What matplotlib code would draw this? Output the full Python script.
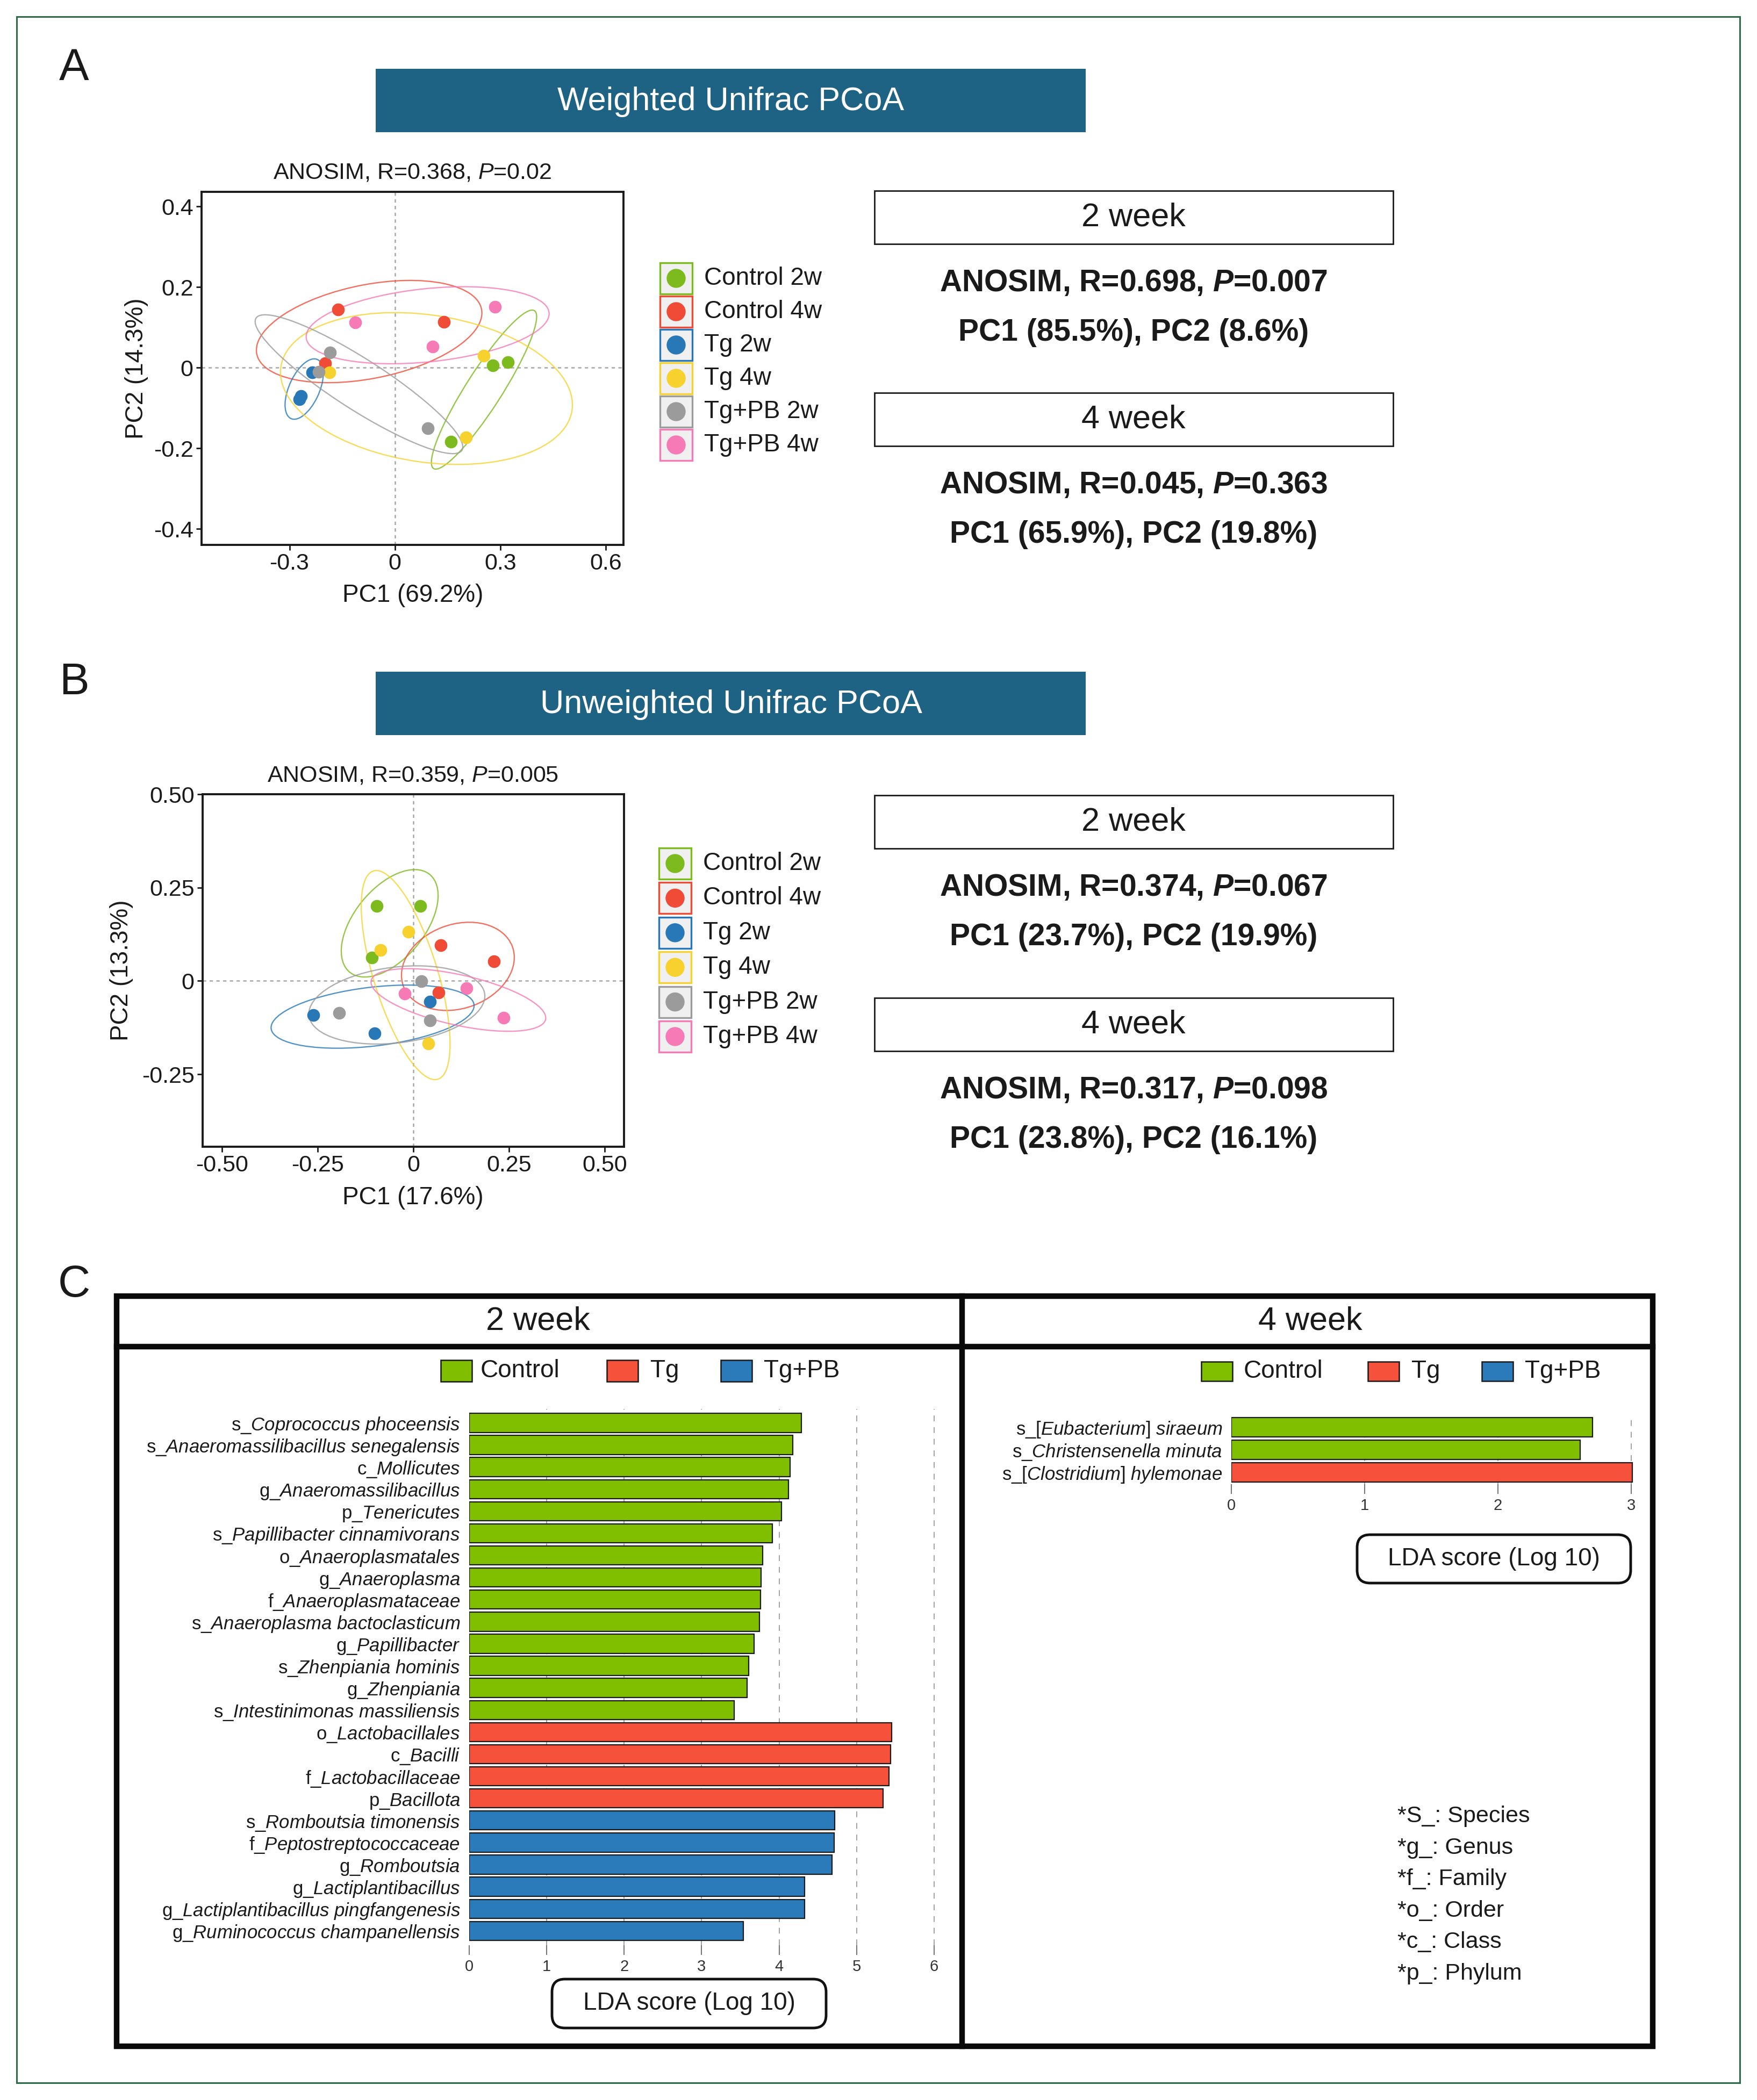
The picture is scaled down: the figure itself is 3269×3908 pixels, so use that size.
import numpy as np
import matplotlib
matplotlib.use('Agg')
import matplotlib.pyplot as plt
from matplotlib.patches import Rectangle, Ellipse, FancyBboxPatch, Circle

plt.rcParams['font.family'] = ['Liberation Sans', 'DejaVu Sans']
plt.rcParams['mathtext.fontset'] = 'custom'
plt.rcParams['mathtext.rm'] = 'Liberation Sans'
plt.rcParams['mathtext.it'] = 'Liberation Sans:italic'
plt.rcParams['mathtext.bf'] = 'Liberation Sans:bold'
plt.rcParams['mathtext.bfit'] = 'Liberation Sans:italic:bold'

# ---------------- data ----------------
groups = ['Control 2w', 'Control 4w', 'Tg 2w', 'Tg 4w', 'Tg+PB 2w', 'Tg+PB 4w']
group_colors = ['#7cba1e', '#f04b37', '#2878b8', '#f7d22f', '#9b9b9b', '#f57ab5']

# weighted unifrac PCoA (one list per group)
wu_pc1 = [
    [0.279, 0.321, 0.160],
    [-0.161, 0.139, -0.198],
    [-0.235, -0.267, -0.272],
    [-0.186, 0.253, 0.202],
    [-0.184, -0.216, 0.093],
    [-0.113, 0.285, 0.107],
]
wu_pc2 = [
    [0.006, 0.014, -0.184],
    [0.144, 0.113, 0.011],
    [-0.012, -0.070, -0.078],
    [-0.012, 0.029, -0.173],
    [0.037, -0.011, -0.150],
    [0.112, 0.151, 0.052],
]
# unweighted unifrac PCoA
uu_pc1 = [
    [-0.095, 0.018, -0.108],
    [0.072, 0.211, 0.066],
    [-0.261, 0.043, -0.101],
    [-0.013, -0.086, 0.039],
    [0.021, -0.194, 0.044],
    [-0.022, 0.139, 0.236],
]
uu_pc2 = [
    [0.201, 0.200, 0.062],
    [0.095, 0.053, -0.031],
    [-0.092, -0.055, -0.140],
    [0.132, 0.083, -0.168],
    [-0.001, -0.086, -0.106],
    [-0.034, -0.020, -0.099],
]

wu_title = 'ANOSIM, R=0.368, $\\mathit{P}$=0.02'
uu_title = 'ANOSIM, R=0.359, $\\mathit{P}$=0.005'
wu_axis = ['PC1 (69.2%)', 'PC2 (14.3%)']
uu_axis = ['PC1 (17.6%)', 'PC2 (13.3%)']

wu_stats = [('2 week', 'ANOSIM, R=0.698, $\\mathbfit{P}$=0.007', 'PC1 (85.5%), PC2 (8.6%)'),
            ('4 week', 'ANOSIM, R=0.045, $\\mathbfit{P}$=0.363', 'PC1 (65.9%), PC2 (19.8%)')]
uu_stats = [('2 week', 'ANOSIM, R=0.374, $\\mathbfit{P}$=0.067', 'PC1 (23.7%), PC2 (19.9%)'),
            ('4 week', 'ANOSIM, R=0.317, $\\mathbfit{P}$=0.098', 'PC1 (23.8%), PC2 (16.1%)')]

# LEfSe, 2 week
w2_taxa = ['s_Coprococcus phoceensis', 's_Anaeromassilibacillus senegalensis', 'c_Mollicutes',
           'g_Anaeromassilibacillus', 'p_Tenericutes', 's_Papillibacter cinnamivorans',
           'o_Anaeroplasmatales', 'g_Anaeroplasma', 'f_Anaeroplasmataceae',
           's_Anaeroplasma bactoclasticum', 'g_Papillibacter', 's_Zhenpiania hominis',
           'g_Zhenpiania', 's_Intestinimonas massiliensis', 'o_Lactobacillales', 'c_Bacilli',
           'f_Lactobacillaceae', 'p_Bacillota', 's_Romboutsia timonensis',
           'f_Peptostreptococcaceae', 'g_Romboutsia', 'g_Lactiplantibacillus',
           'g_Lactiplantibacillus pingfangenesis', 'g_Ruminococcus champanellensis']
w2_lda = [4.29, 4.18, 4.14, 4.12, 4.03, 3.91, 3.79, 3.77, 3.76, 3.75, 3.68, 3.61, 3.59, 3.42,
          5.45, 5.44, 5.42, 5.34, 4.72, 4.71, 4.68, 4.33, 4.33, 3.54]
w2_group = ['Control'] * 14 + ['Tg'] * 4 + ['Tg+PB'] * 6

# LEfSe, 4 week
w4_taxa = ['s_[Eubacterium] siraeum', 's_Christensenella minuta', 's_[Clostridium] hylemonae']
w4_lda = [2.71, 2.62, 3.01]
w4_group = ['Control', 'Control', 'Tg']

lefse_classes = ['Control', 'Tg', 'Tg+PB']
lefse_colors = {'Control': '#80bf00', 'Tg': '#f5513b', 'Tg+PB': '#2b7bba'}

rank_notes = ['*S_: Species', '*g_: Genus', '*f_: Family', '*o_: Order', '*c_: Class', '*p_: Phylum']

# ---------------- layout helpers ----------------
W, H = 3269, 3908
fig = plt.figure(figsize=(W / 100, H / 100), dpi=100)
canvas = fig.add_axes([0, 0, 1, 1])
canvas.set_xlim(0, W)
canvas.set_ylim(H, 0)
canvas.axis('off')


def box(x0, y0, x1, y1):
    return [x0 / W, 1 - y1 / H, (x1 - x0) / W, (y1 - y0) / H]


def ellipse(ax, x, y, color, scale=1.72, reg=0.0006):
    x = np.asarray(x)
    y = np.asarray(y)
    cov = np.cov(x, y) + reg * np.eye(2)
    vals, vecs = np.linalg.eigh(cov)
    ang = np.degrees(np.arctan2(vecs[1, 1], vecs[0, 1]))
    e = Ellipse((x.mean(), y.mean()), 2 * scale * np.sqrt(vals[1]), 2 * scale * np.sqrt(vals[0]),
                angle=ang, fill=False, ec=color, lw=1.7, alpha=0.8, zorder=2)
    ax.add_patch(e)


def pcoa(rect, xs, ys, xlim, ylim, xticks, xtl, yticks, ytl):
    ax = fig.add_axes(rect)
    ax.axhline(0, color='#a8a8a8', ls=(0, (2.5, 2.5)), lw=1.8, zorder=1)
    ax.axvline(0, color='#a8a8a8', ls=(0, (2.5, 2.5)), lw=1.8, zorder=1)
    for x, y, c in zip(xs, ys, group_colors):
        ellipse(ax, x, y, c)
        ax.scatter(x, y, s=290, color=c, lw=0, zorder=3)
    ax.set_xlim(*xlim)
    ax.set_ylim(*ylim)
    ax.set_xticks(xticks)
    ax.set_xticklabels(xtl)
    ax.set_yticks(yticks)
    ax.set_yticklabels(ytl)
    for s in ax.spines.values():
        s.set_linewidth(2.8)
        s.set_color('#1a1a1a')
    ax.tick_params(length=7, width=2, labelsize=31, pad=4, colors='#1a1a1a')
    return ax


def pcoa_legend(x_box, y_first, step):
    for i, (g, c) in enumerate(zip(groups, group_colors)):
        yc = y_first + i * step
        canvas.add_patch(Rectangle((x_box, yc - 29), 60, 58, fc='#f0f0f0', ec=c, lw=2.4))
        canvas.add_patch(Circle((x_box + 30, yc), 17, color=c))
        canvas.text(x_box + 82, yc, g, fontsize=33, va='center', ha='left', color='#1a1a1a')


def stats_block(y_boxes, stats):
    for yb, (wk, l1, l2) in zip(y_boxes, stats):
        canvas.add_patch(Rectangle((1627, yb), 965, 99, fill=False, ec='#1a1a1a', lw=2))
        canvas.text(2109, yb + 50, wk, fontsize=44, ha='center', va='center', color='#1a1a1a')
        canvas.text(2109, yb + 172, l1, fontsize=41, fontweight='bold', ha='center', va='center',
                    color='#1a1a1a')
        canvas.text(2109, yb + 264, l2, fontsize=41, fontweight='bold', ha='center', va='center',
                    color='#1a1a1a')


def taxon_label(t):
    prefix, name = t.split('_', 1)
    return prefix + '_$\\mathit{' + name.replace(' ', '\\ ') + '}$'


def lefse(rect, taxa, lda, grp, xmax, ylim_pad, ticks):
    ax = fig.add_axes(rect)
    ypos = np.arange(len(taxa))
    for v in ticks[1:]:
        ax.axvline(v, color='#9a9a9a', ls=(0, (6, 6)), lw=1.3, zorder=0)
    ax.barh(ypos, lda, height=0.86, color=[lefse_colors[g] for g in grp],
            edgecolor='#1a1a1a', lw=1.6, zorder=2)
    ax.set_xlim(0, xmax)
    ax.set_ylim(len(taxa) - 1 + ylim_pad[1], -ylim_pad[0])
    ax.set_yticks(ypos)
    ax.set_yticklabels([taxon_label(t) for t in taxa], fontsize=25, color='#1a1a1a')
    ax.set_xticks(ticks)
    ax.set_xticklabels([str(t) for t in ticks])
    ax.tick_params(axis='y', length=0, pad=12)
    ax.tick_params(axis='x', length=13, width=1.5, color='#777777', labelsize=21, pad=6,
                   labelcolor='#333333')
    for s in ax.spines.values():
        s.set_visible(False)
    return ax


def lefse_legend(xs_box, xs_text, yc, h):
    for cls, xb, xt in zip(lefse_classes, xs_box, xs_text):
        canvas.add_patch(Rectangle((xb, yc - h / 2), 58, h, fc=lefse_colors[cls], ec='#1a1a1a', lw=1.8))
        canvas.text(xt, yc, cls, fontsize=33, va='center', ha='left', color='#1a1a1a')


def lda_box(x0, y0, x1, y1):
    canvas.add_patch(FancyBboxPatch((x0, y0), x1 - x0, y1 - y0,
                                    boxstyle='round,pad=0,rounding_size=24',
                                    fc='white', ec='#111111', lw=3.5))
    canvas.text((x0 + x1) / 2, (y0 + y1) / 2, 'LDA score (Log 10)', fontsize=33,
                ha='center', va='center', color='#1a1a1a')


# ---------------- frame and panel letters ----------------
canvas.add_patch(Rectangle((31, 31), 3206, 3845, fill=False, ec='#2d6a47', lw=2.2))
for letter, y in zip(['A', 'B', 'C'], [127, 1270, 2391]):
    canvas.text(138, y, letter, fontsize=60, ha='center', va='center', color='#1a1a1a')

# ---------------- panel A ----------------
canvas.add_patch(Rectangle((699, 128), 1321, 118, fc='#1f6384', ec='none'))
canvas.text(1360, 189, 'Weighted Unifrac PCoA', fontsize=44, color='white', ha='center', va='center')

pcoa(box(375, 357, 1160, 1014), wu_pc1, wu_pc2, (-0.55, 0.65), (-0.44, 0.436),
     [-0.3, 0, 0.3, 0.6], ['-0.3', '0', '0.3', '0.6'],
     [-0.4, -0.2, 0, 0.2, 0.4], ['-0.4', '-0.2', '0', '0.2', '0.4'])
canvas.text(767, 321, wu_title, fontsize=31, ha='center', va='center', color='#1a1a1a')
canvas.text(768, 1108, wu_axis[0], fontsize=33, ha='center', va='center', color='#1a1a1a')
canvas.text(254, 686, wu_axis[1], fontsize=33, ha='center', va='center', rotation=90, color='#1a1a1a')
pcoa_legend(1228, 518, 62)
stats_block([355, 731], wu_stats)

# ---------------- panel B ----------------
canvas.add_patch(Rectangle((699, 1250), 1321, 118, fc='#1f6384', ec='none'))
canvas.text(1360, 1311, 'Unweighted Unifrac PCoA', fontsize=44, color='white', ha='center', va='center')

pcoa(box(377, 1478, 1161, 2134), uu_pc1, uu_pc2, (-0.55, 0.55), (-0.444, 0.5),
     [-0.5, -0.25, 0, 0.25, 0.5], ['-0.50', '-0.25', '0', '0.25', '0.50'],
     [-0.25, 0, 0.25, 0.5], ['-0.25', '0', '0.25', '0.50'])
canvas.text(768, 1443, uu_title, fontsize=31, ha='center', va='center', color='#1a1a1a')
canvas.text(768, 2229, uu_axis[0], fontsize=33, ha='center', va='center', color='#1a1a1a')
canvas.text(226, 1806, uu_axis[1], fontsize=33, ha='center', va='center', rotation=90, color='#1a1a1a')
pcoa_legend(1226, 1607, 64.4)
stats_block([1480, 1857], uu_stats)

# ---------------- panel C ----------------
canvas.add_patch(Rectangle((217, 2412), 3075 - 217, 3808 - 2412, fill=False, ec='#0a0a0a', lw=7.5))
canvas.plot([217, 3075], [2506, 2506], color='#0a0a0a', lw=7.5)
canvas.plot([1790, 1790], [2412, 3808], color='#0a0a0a', lw=7.5)
canvas.text(1001, 2459, '2 week', fontsize=44, ha='center', va='center', color='#1a1a1a')
canvas.text(2438, 2459, '4 week', fontsize=44, ha='center', va='center', color='#1a1a1a')

lefse_legend([820, 1129, 1341], [894, 1210, 1421], 2551, 40)
lefse_legend([2235, 2545, 2757], [2314, 2626, 2837], 2552, 36)

lefse(box(873, 2622, 1745, 3620), w2_taxa, w2_lda, w2_group, 6.05, (0.63, 0.65),
      [0, 1, 2, 3, 4, 5, 6])
lefse(box(2291, 2634, 3042, 2762), w4_taxa, w4_lda, w4_group, 3.03, (0.52, 0.52),
      [0, 1, 2, 3])

lda_box(1027, 3683, 1537, 3774)
lda_box(2525, 2856, 3034, 2946)

for i, note in enumerate(rank_notes):
    canvas.text(2600, 3380 + i * 58.6, note, fontsize=31, ha='left', va='center', color='#1a1a1a')

fig.savefig('out.png', dpi=100)
